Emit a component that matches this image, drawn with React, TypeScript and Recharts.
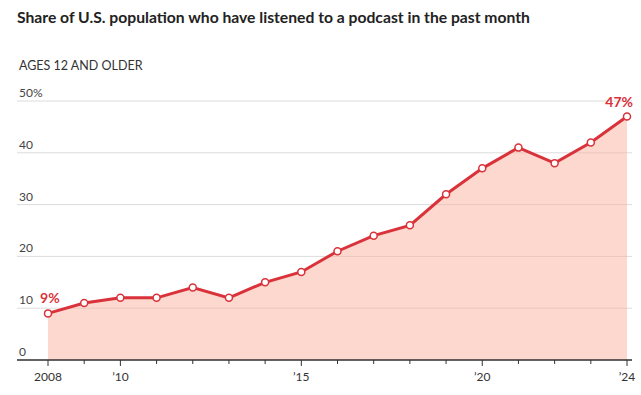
import React from "react";
import { ComposedChart, Area, Line, XAxis, YAxis, CartesianGrid } from "recharts";

const years = [2008, 2009, 2010, 2011, 2012, 2013, 2014, 2015, 2016, 2017, 2018, 2019, 2020, 2021, 2022, 2023, 2024];
const shares = [9, 11, 12, 12, 14, 12, 15, 17, 21, 24, 26, 32, 37, 41, 38, 42, 47];
const yTicks = [0, 10, 20, 30, 40, 50];
const yTickLabels = ["0", "10", "20", "30", "40", "50%"];
const xLabelMap: Record<number, string> = { 2008: "2008", 2010: "\u201910", 2015: "\u201915", 2020: "\u201920", 2024: "\u201924" };

const data = years.map((y, i) => ({ year: y, share: shares[i] }));

const RED = "#d9323a";
const FONT = "Lato, 'Noto Sans', sans-serif";

const XTick = (props: any) => {
  const { x, y, payload } = props;
  const label = xLabelMap[payload.value];
  return (
    <g>
      <line x1={x} x2={x} y1={y} y2={y + (label ? 6 : 4)} stroke="#333" strokeWidth={1} />
      {label && (
        <text x={x} y={y + 21} textAnchor="middle" fontSize={12} fill="#333" fontFamily={FONT}>
          {label}
        </text>
      )}
    </g>
  );
};

const YTick = (props: any) => {
  const { y, payload } = props;
  const idx = yTicks.indexOf(payload.value);
  return (
    <text x={19} y={y - 4} textAnchor="start" fontSize={12} fill="#444" fontFamily={FONT}>
      {yTickLabels[idx]}
    </text>
  );
};

const EndLabel = (props: any) => {
  const { x, y, index, value } = props;
  if (index === 0) {
    return (
      <text x={x - 8} y={y - 10} fontSize={14} fontWeight="bold" fill={RED} fontFamily={FONT}>
        {value}%
      </text>
    );
  }
  if (index === shares.length - 1) {
    return (
      <text x={x + 6} y={y - 10} textAnchor="end" fontSize={14} fontWeight="bold" fill={RED} fontFamily={FONT}>
        {value}%
      </text>
    );
  }
  return null;
};

export default function App() {
  return (
    <div style={{ position: "absolute", left: 0, top: 0, width: 641, height: 395, background: "#fff", fontFamily: FONT }}>
      <div style={{ position: "absolute", left: 17, top: 8, fontSize: 15.7, fontWeight: 700, color: "#222", whiteSpace: "nowrap" }}>
        Share of U.S. population who have listened to a podcast in the past month
      </div>
      <div style={{ position: "absolute", left: 19, top: 58, fontSize: 12.5, color: "#333", whiteSpace: "nowrap" }}>
        AGES 12 AND OLDER
      </div>
      <ComposedChart width={641} height={395} data={data} margin={{ top: 101, right: 9, bottom: 5, left: 16 }}>
        <CartesianGrid vertical={false} stroke="#dcdcdc" strokeWidth={1} />
        <XAxis
          dataKey="year"
          type="number"
          domain={[2008, 2024]}
          ticks={years}
          interval={0}
          padding={{ left: 31, right: 5 }}
          tick={<XTick />}
          tickLine={false}
          tickSize={0}
          tickMargin={0}
          axisLine={{ stroke: "#333", strokeWidth: 1.5 }}
          height={30}
        />
        <YAxis
          domain={[0, 50]}
          ticks={yTicks}
          interval={0}
          width={1}
          axisLine={false}
          tickLine={false}
          tick={<YTick />}
        />
        <Area
          type="linear"
          dataKey="share"
          stroke="none"
          fill="#f9b19d"
          fillOpacity={0.5}
          isAnimationActive={false}
        />
        <Line
          type="linear"
          dataKey="share"
          stroke={RED}
          strokeWidth={3}
          dot={{ r: 3.5, fill: "#fff", stroke: RED, strokeWidth: 1.5 }}
          activeDot={false}
          label={<EndLabel />}
          isAnimationActive={false}
        />
      </ComposedChart>
    </div>
  );
}
